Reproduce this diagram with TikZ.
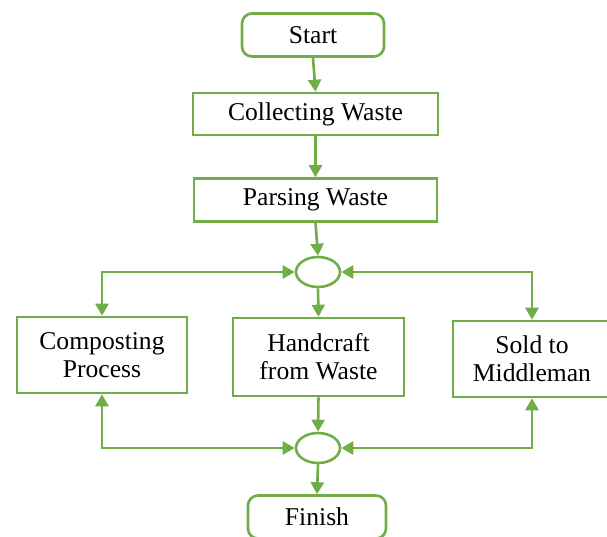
\documentclass[tikz,border=0pt]{standalone}
\usepackage{fontspec}
\setmainfont{Liberation Serif}
\usepackage{xcolor}
\usetikzlibrary{arrows.meta,shapes.geometric}
\definecolor{leafgreen}{RGB}{112,173,71}

\begin{document}
\begin{tikzpicture}[x=0.5pt,y=-0.5pt,
% common options for blocks:
block/.style = {draw=leafgreen, line width=1.3pt, fill=white, align=center,
            font=\fontsize{12.8}{14}\selectfont, inner sep=0},
% rounded terminals:
terminal/.style = {block, rounded corners=5pt},
% common options for the joints:
joint/.style = {ellipse, draw=leafgreen, line width=1.3pt, minimum width=22pt,
            minimum height=15pt, inner sep=0},
flow/.style = {draw=leafgreen, line width=1.3pt, -{Triangle[length=6pt,width=6.5pt]}},
both/.style = {flow, {Triangle[length=6pt,width=6.5pt]}-{Triangle[length=6pt,width=6.5pt]}}]
\useasboundingbox (0,0) rectangle (607,537);
\node[terminal,minimum width=71pt,minimum height=21.5pt] (S0) at (313,35) {Start};
\node[block,minimum width=122.5pt,minimum height=21pt] (C1) at (315.5,114) {Collecting Waste};
\node[block,minimum width=121.5pt,minimum height=21.5pt] (P1) at (315.5,200) {Parsing Waste};
\node[joint] (J1) at (318,272) {};
\node[block,minimum width=85pt,minimum height=38pt] (B1) at (102,355) {Composting\\Process};
\node[block,minimum width=85.5pt,minimum height=39pt] (B2) at (318.5,357) {Handcraft\\from Waste};
\node[block,minimum width=79pt,minimum height=38pt] (B3) at (532,359) {Sold to\\Middleman};
\node[joint] (J2) at (318,448) {};
\node[terminal,minimum width=69pt,minimum height=21.5pt] (F0) at (317,517) {Finish};
\draw[flow] (S0.south) to (C1.north);
\draw[flow] (C1.south) to (P1.north);
\draw[flow] (P1.south) to (J1.north);
\draw[flow] (J1.south) to (B2.north);
\draw[both] (B1.north) |- (J1.west);
\draw[both] (B3.north) |- (J1.east);
\draw[flow] (B2.south) to (J2.north);
\draw[both] (B1.south) |- (J2.west);
\draw[both] (B3.south) |- (J2.east);
\draw[flow] (J2.south) to (F0.north);
\end{tikzpicture}
\end{document}
